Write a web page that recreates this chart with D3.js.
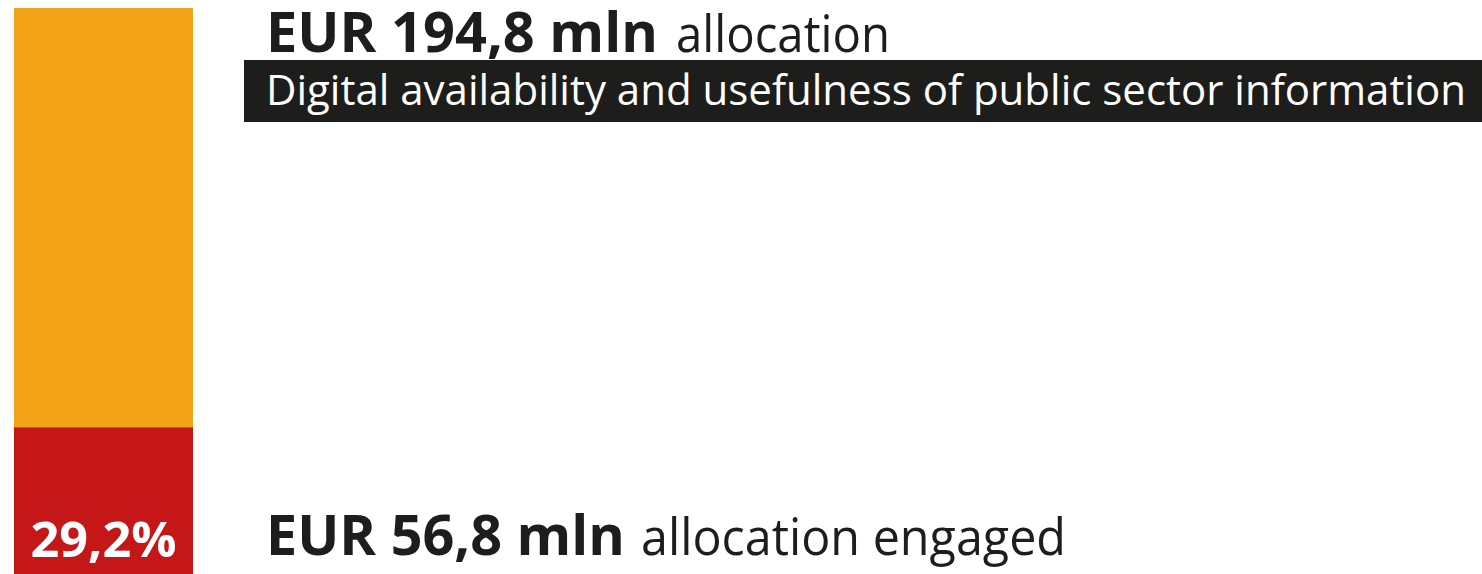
<!DOCTYPE html>
<html>
<head>
<meta charset="utf-8">
<script src="https://cdn.jsdelivr.net/npm/d3@7"></script>
<style>
  html, body { margin: 0; padding: 0; background: #fff; }
  svg { display: block; }
</style>
</head>
<body>
<div id="chart"></div>
<script>
// values
var allocation = 194.8;      // EUR mln, full bar
var engaged = 56.8;          // EUR mln, red part
var shareLabel = "29,2%";
var topAmount = "EUR 194,8 mln";
var topWord = "allocation";
var theme = "Digital availability and usefulness of public sector information";
var bottomAmount = "EUR 56,8 mln";
var bottomWord = "allocation engaged";

var width = 1482, height = 574;

var svg = d3.select("#chart").append("svg")
    .attr("width", width)
    .attr("height", height);

// bar runs past the bottom edge of the picture
var yScale = d3.scaleLinear()
    .domain([0, allocation])
    .range([600, 8]);

var barX = 14, barW = 179;

svg.append("rect")
    .attr("x", barX)
    .attr("y", yScale(allocation))
    .attr("width", barW)
    .attr("height", yScale(0) - yScale(allocation))
    .style("fill", "#f4a419");

svg.append("rect")
    .attr("x", barX)
    .attr("y", yScale(engaged))
    .attr("width", barW)
    .attr("height", yScale(0) - yScale(engaged))
    .style("fill", "#c51718");

svg.append("text")
    .attr("x", barX + barW / 2)
    .attr("y", 557)
    .attr("text-anchor", "middle")
    .attr("textLength", 146)
    .attr("lengthAdjust", "spacingAndGlyphs")
    .text(shareLabel)
    .style("fill", "#fff")
    .style("font-family", "'Open Sans', sans-serif")
    .style("font-weight", 700)
    .style("font-size", "48px");

// little helper for label text, squeezed to the width seen in the picture
function label(x, y, txt, len, size, weight, color) {
  return svg.append("text")
    .attr("x", x)
    .attr("y", y)
    .attr("textLength", len)
    .attr("lengthAdjust", "spacingAndGlyphs")
    .text(txt)
    .style("fill", color)
    .style("font-family", "'Open Sans', sans-serif")
    .style("font-weight", weight)
    .style("font-size", size + "px");
}

label(266, 52, topAmount, 392, 56, 700, "#1d1d1b");
label(676, 52, topWord, 214, 52, 400, "#1d1d1b");

svg.append("rect")
    .attr("x", 244)
    .attr("y", 60)
    .attr("width", width - 244)
    .attr("height", 62)
    .style("fill", "#1d1d1b");

label(266, 105, theme, 1200, 42, 400, "#fff");

label(266, 555, bottomAmount, 359, 56, 700, "#1d1d1b");
label(641, 555, bottomWord, 425, 52, 400, "#1d1d1b");
</script>
</body>
</html>
